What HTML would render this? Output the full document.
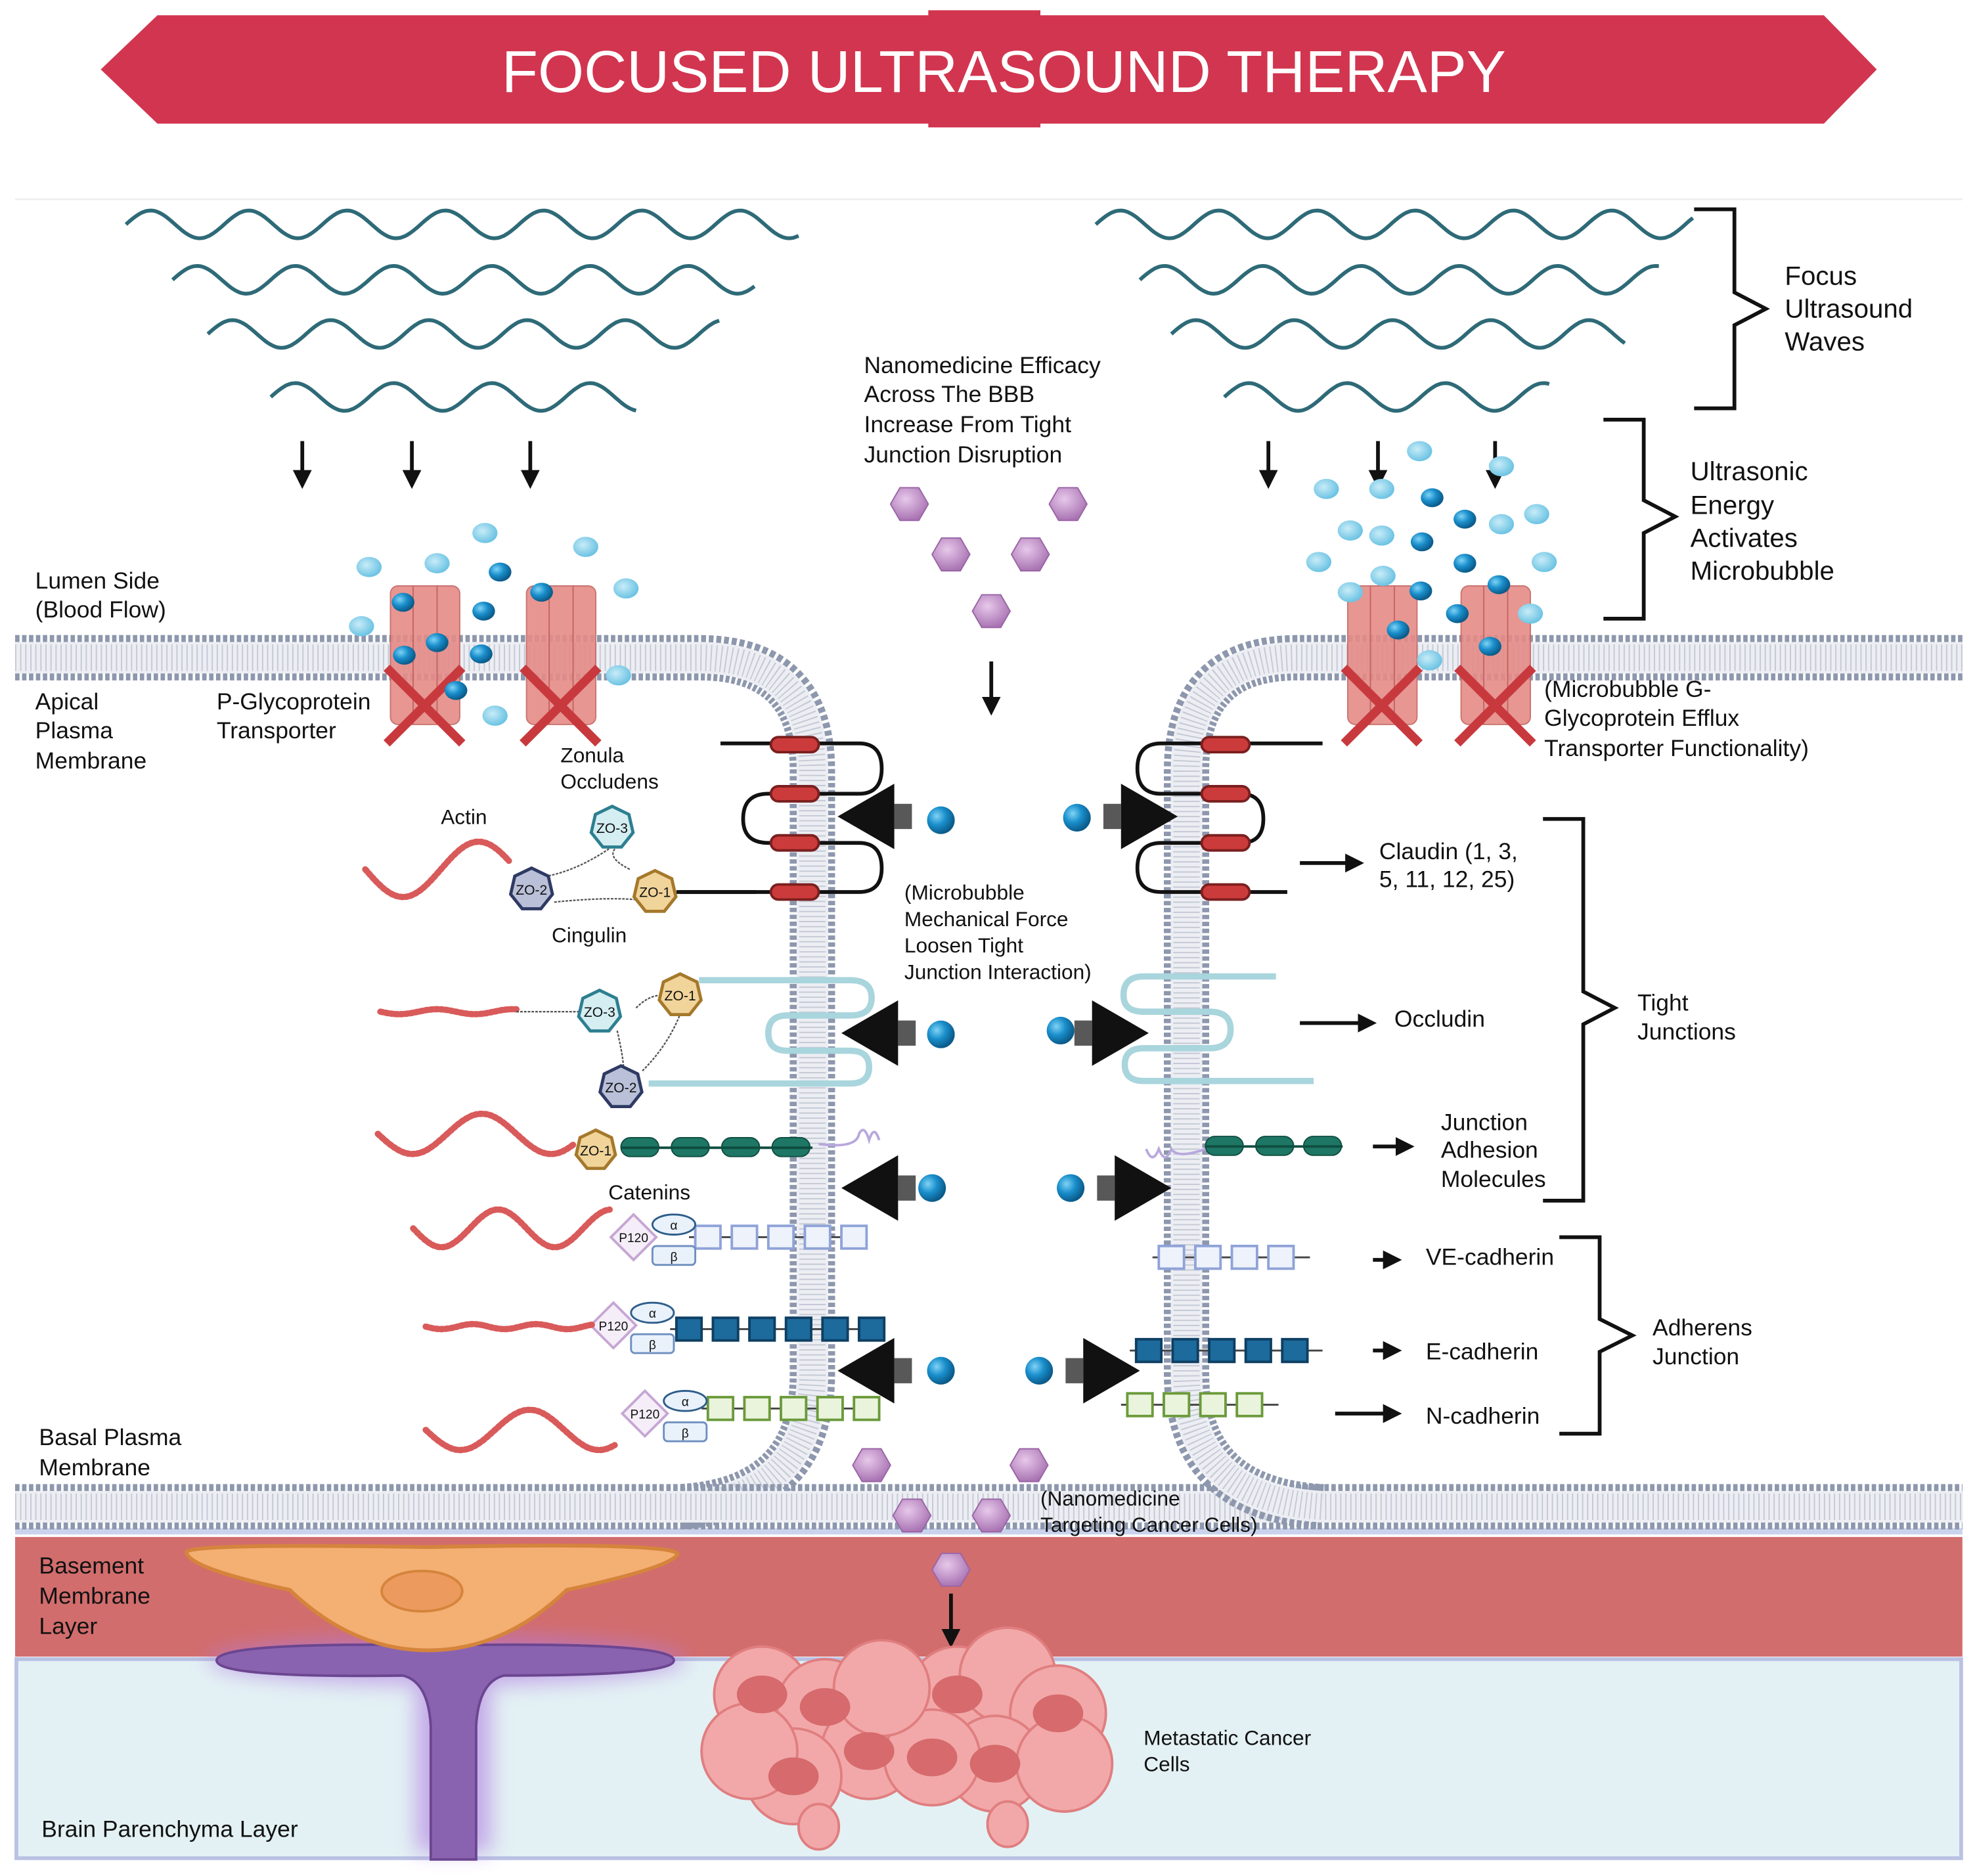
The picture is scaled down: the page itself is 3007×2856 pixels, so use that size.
<!DOCTYPE html>
<html><head><meta charset="utf-8">
<style>
html,body{margin:0;padding:0;background:#fff;}
svg{display:block;}
text{font-family:"Liberation Sans",Arial,sans-serif;fill:#111;}
</style></head>
<body>
<svg id="s" xmlns="http://www.w3.org/2000/svg" width="3007" height="2856" viewBox="0 0 1568 1489">
<defs>
<radialGradient id="ball" cx="35%" cy="35%" r="65%"><stop offset="0" stop-color="#7fd3f5"/><stop offset="0.5" stop-color="#1a8fcc"/><stop offset="1" stop-color="#0b5b8a"/></radialGradient>
<radialGradient id="lball" cx="40%" cy="40%" r="60%"><stop offset="0" stop-color="#c8ecf8"/><stop offset="1" stop-color="#6cc3e3"/></radialGradient>
<radialGradient id="nano" cx="40%" cy="35%" r="65%"><stop offset="0" stop-color="#e7c8ea"/><stop offset="1" stop-color="#a974b3"/></radialGradient>
<filter id="glow" x="-30%" y="-60%" width="160%" height="220%"><feGaussianBlur stdDeviation="8"/></filter>
<linearGradient id="tail" x1="0" x2="1"><stop offset="0" stop-color="#000" stop-opacity="0.9"/><stop offset="1" stop-color="#000" stop-opacity="0"/></linearGradient>
<marker id="ah" viewBox="0 0 10 10" refX="8" refY="5" markerWidth="5" markerHeight="5" orient="auto"><path d="M0,0 L10,5 L0,10 z" fill="#111"/></marker>
</defs>

<!-- title banner -->
<polygon points="125,12 1448,12 1490,55 1448,98 125,98 80,55" fill="#d2354f"/>
<rect x="737" y="8" width="89" height="93" fill="#d2354f"/>
<text x="797" y="73" font-size="47" text-anchor="middle" style="fill:#fff">FOCUSED ULTRASOUND THERAPY</text>
<line x1="12" y1="158" x2="1558" y2="158" stroke="#eee" stroke-width="1.5"/>

<!-- lower layers -->
<rect x="12" y="1213" width="1546" height="5" fill="#c9d3ec"/>
<rect x="12" y="1220" width="1546" height="95" fill="#d26d6d"/>
<rect x="13" y="1317" width="1544" height="158" fill="#e3f1f4" stroke="#b9c2e3" stroke-width="3"/>

<g id="waves" fill="none" stroke="#2e6a77" stroke-width="3"></g>
<g id="arrows" stroke="#111" stroke-width="3" fill="none"></g>

<!-- brackets -->
<g fill="none" stroke="#111" stroke-width="3">
<path d="M1345,166 H1377 V232 L1402,245 L1377,258 V324 H1345"/>
<path d="M1273,333 H1305 V397 L1330,410 L1305,423 V491 H1273"/>
<path d="M1225,650 H1257 V787 L1282,800 L1257,813 V953 H1225"/>
<path d="M1238,982 H1270 V1047 L1296,1060 L1270,1073 V1138 H1238"/>
</g>

<!-- membranes -->
<g id="mem" fill="none"></g>

<!-- astrocyte & cell -->
<g filter="url(#glow)" opacity="0.6"><ellipse cx="355" cy="1318" rx="190" ry="20" fill="#b07ae0"/><rect x="330" y="1320" width="60" height="150" fill="#b07ae0"/></g>
<path d="M172,1318 Q172,1303 352,1306 Q535,1303 535,1318 Q535,1330 400,1330 Q380,1335 378,1370 V1476 H342 V1370 Q340,1335 320,1330 Q172,1332 172,1318z" fill="#8a63b0" stroke="#6b4690" stroke-width="2"/>
<path d="M148,1232 Q150,1225 340,1228 Q540,1224 538,1234 Q530,1245 450,1262 Q400,1310 340,1310 Q280,1310 230,1262 Q150,1245 148,1232z" fill="#f4af72" stroke="#d5843c" stroke-width="3"/>
<ellipse cx="335" cy="1263" rx="32" ry="16" fill="#ec9a5e" stroke="#d5843c" stroke-width="2"/>

<!-- cancer cells -->
<g id="cancer"></g>

<!-- transporters -->
<g id="pgp"></g>
<g id="bubbles"></g>

<!-- tight junction structures -->
<g fill="none" stroke="#111" stroke-width="3">
<path d="M572,590 H682 Q700,590 700,610 Q700,630 682,630 H610 Q590,630 590,650 Q590,669 610,669 H682 Q700,669 700,689 Q700,708 682,708 H540"/>
<path d="M1050,590 H922 Q903,590 903,610 Q903,630 922,630 H985 Q1003,630 1003,650 Q1003,669 985,669 H922 Q903,669 903,689 Q903,708 922,708 H1022"/>
</g>
<g id="claudin" fill="#cc3b3b" stroke="#7a1f1f" stroke-width="2"></g>
<g fill="none" stroke="#a9d5dd" stroke-width="5">
<path d="M555,778 H675 Q692,778 692,792 Q692,806 675,806 H625 Q610,806 610,820 Q610,834 625,834 H675 Q690,834 690,847 Q690,860 675,860 H515"/>
<path d="M1013,775 H908 Q892,775 892,790 Q892,803 908,803 H960 Q977,803 977,817 Q977,832 960,832 H908 Q893,832 893,845 Q893,858 908,858 H1043"/>
</g>
<g id="prot"></g>
<g id="actin" fill="none" stroke="#d95a5a" stroke-width="5" stroke-dasharray="2 2" stroke-linecap="round"></g>
<g id="zo"></g>
<g id="big"></g>
<g id="nanos"></g>

<!-- texts -->
<g font-size="21">
<text x="1417" y="226">Focus</text><text x="1417" y="252">Ultrasound</text><text x="1417" y="278">Waves</text>
<text x="1342" y="381">Ultrasonic</text><text x="1342" y="408">Energy</text><text x="1342" y="434">Activates</text><text x="1342" y="460">Microbubble</text>
</g>
<g font-size="18.5">
<text x="686" y="296">Nanomedicine Efficacy</text><text x="686" y="319">Across The BBB</text><text x="686" y="343">Increase From Tight</text><text x="686" y="367">Junction Disruption</text>
<text x="28" y="467">Lumen Side</text><text x="28" y="490">(Blood Flow)</text>
<text x="28" y="563">Apical</text><text x="28" y="586">Plasma</text><text x="28" y="610">Membrane</text>
<text x="172" y="563">P-Glycoprotein</text><text x="172" y="586">Transporter</text>
<text x="1226" y="553">(Microbubble G-</text><text x="1226" y="576">Glycoprotein Efflux</text><text x="1226" y="600">Transporter Functionality)</text>
<text x="1095" y="682">Claudin (1, 3,</text><text x="1095" y="704">5, 11, 12, 25)</text>
<text x="1107" y="815">Occludin</text>
<text x="1300" y="802">Tight</text><text x="1300" y="825">Junctions</text>
<text x="1144" y="897">Junction</text><text x="1144" y="919">Adhesion</text><text x="1144" y="942">Molecules</text>
<text x="1132" y="1004">VE-cadherin</text><text x="1132" y="1079">E-cadherin</text><text x="1132" y="1130">N-cadherin</text>
<text x="1312" y="1060">Adherens</text><text x="1312" y="1083">Junction</text>
<text x="31" y="1147">Basal Plasma</text><text x="31" y="1171">Membrane</text>
<text x="31" y="1249">Basement</text><text x="31" y="1273">Membrane</text><text x="31" y="1297">Layer</text>
<text x="33" y="1458">Brain Parenchyma Layer</text>
</g>
<g font-size="16.5">
<text x="445" y="605">Zonula</text><text x="445" y="626">Occludens</text>
<text x="350" y="654">Actin</text><text x="438" y="748">Cingulin</text>
<text x="718" y="714">(Microbubble</text><text x="718" y="735">Mechanical Force</text><text x="718" y="756">Loosen Tight</text><text x="718" y="777">Junction Interaction)</text>
<text x="483" y="952">Catenins</text>
<text x="826" y="1195">(Nanomedicine</text><text x="826" y="1216">Targeting Cancer Cells)</text>
<text x="908" y="1385">Metastatic Cancer</text><text x="908" y="1406">Cells</text>
</g>
</svg>
<script>
const NS="http://www.w3.org/2000/svg";
function el(p,t,a,txt){const e=document.createElementNS(NS,t);for(const k in a)e.setAttribute(k,a[k]);if(txt)e.textContent=txt;document.getElementById(p).appendChild(e);return e;}
// waves
[[100,635,178],[137,600,222],[165,572,265],[215,505,315],[870,1345,178],[905,1318,222],[930,1290,265],[972,1230,315]].forEach(([a,b,y])=>{let d="";for(let x=a;x<=b;x+=2){const v=y-11*Math.sin((x-a)/78*2*Math.PI);d+=(x==a?"M":"L")+x+","+v.toFixed(1);}el("waves","path",{d});});
// down arrows
[[240,350,393],[327,350,393],[421,350,393],[1007,350,393],[1094,350,393],[1187,350,393],[787,525,573],[755,1265,1313]].forEach(([x,a,b])=>el("arrows","line",{x1:x,y1:a,x2:x,y2:b-8,"marker-end":"url(#ah)"}));
// small right arrows
[[1032,1086,685],[1032,1096,812],[1090,1126,910],[1090,1116,1000],[1090,1116,1072],[1060,1116,1122]].forEach(([a,b,y])=>el("arrows","line",{x1:a,y1:y,x2:b-6,y2:y,"marker-end":"url(#ah)"}));
// membranes
const mp=["M12,522 H555 Q645,522 645,612 V1090 Q645,1190 540,1196","M12,1196 H1558","M1558,522 H1030 Q942,522 942,612 V1090 Q942,1190 1050,1196"];
mp.forEach(d=>{el("mem","path",{d,stroke:"#8d97ad","stroke-width":36,"stroke-dasharray":"3.5 2"});el("mem","path",{d,stroke:"#eceef3","stroke-width":25});el("mem","path",{d,stroke:"#c4c9d4","stroke-width":21,"stroke-dasharray":"1 3"});});
// pgp
[[310,465],[418,465],[1070,465],[1160,465]].forEach(([x,y])=>{el("pgp","rect",{x,y,width:55,height:110,rx:6,fill:"#e58b87",opacity:0.9,stroke:"#c56562"});el("pgp","line",{x1:x+18,y1:y,x2:x+18,y2:y+110,stroke:"#c56562"});el("pgp","line",{x1:x+37,y1:y,x2:x+37,y2:y+110,stroke:"#c56562"});
const cx=x+27,cy=y+95;el("pgp","path",{d:`M${cx-30},${cy-30} L${cx+30},${cy+30} M${cx+30},${cy-30} L${cx-30},${cy+30}`,stroke:"#c8393e","stroke-width":7});});
// bubbles
const lb=[[293,450],[347,447],[385,423],[465,434],[497,467],[287,497],[393,568],[491,536],[1053,388],[1127,358],[1192,370],[1097,388],[1072,421],[1097,425],[1192,416],[1220,408],[1047,446],[1226,446],[1098,457],[1072,470],[1215,487],[1135,524]];
lb.forEach(([x,y])=>el("bubbles","ellipse",{cx:x,cy:y,rx:10,ry:8,fill:"url(#lball)"}));
const db=[[397,454],[384,485],[382,519],[320,478],[347,510],[321,520],[362,548],[430,470],[1137,395],[1163,412],[1129,430],[1163,447],[1128,469],[1190,464],[1110,500],[1183,513],[1157,487]];
db.forEach(([x,y])=>el("bubbles","ellipse",{cx:x,cy:y,rx:9,ry:7.5,fill:"url(#ball)"}));
// claudin pills
[591,630,669,708].forEach(y=>{el("claudin","rect",{x:612,y:y-6,width:38,height:12,rx:6});el("claudin","rect",{x:954,y:y-6,width:38,height:12,rx:6});});
// JAMs
[508,548,588,628].forEach(x=>el("prot","rect",{x:x-15,y:903,width:30,height:15,rx:7.5,fill:"#1e7765",stroke:"#0f4d40"}));
[972,1012,1050].forEach(x=>el("prot","rect",{x:x-15,y:902,width:30,height:15,rx:7.5,fill:"#1e7765",stroke:"#0f4d40"}));
el("prot","line",{x1:493,y1:911,x2:645,y2:911,stroke:"#0f4d40","stroke-width":2});
el("prot","line",{x1:957,y1:910,x2:1066,y2:910,stroke:"#0f4d40","stroke-width":2});
el("prot","path",{d:"M650,908 Q680,912 682,900 Q686,892 690,905 Q694,892 698,905",fill:"none",stroke:"#b8a8dd","stroke-width":2});
el("prot","path",{d:"M910,912 Q915,925 920,912 Q925,925 930,912 Q935,920 957,912",fill:"none",stroke:"#b8a8dd","stroke-width":2});
// cadherins
function cad(x0,x1,y,fill,st){el("prot","line",{x1:x0-5,y1:y,x2:x1+5,y2:y,stroke:"#444","stroke-width":1.5});for(let x=x0;x<=x1;x+=29)el("prot","rect",{x:x,y:y-9,width:20,height:18,fill,stroke:st,"stroke-width":2});}
cad(552,670,982,"#eef2fb","#8fa3d8");cad(920,1035,998,"#eef2fb","#8fa3d8");
cad(537,685,1055,"#1d6a9c","#0e3f63");cad(902,1045,1072,"#1d6a9c","#0e3f63");
cad(562,680,1118,"#eaf4dc","#6b9a3a");cad(895,1010,1115,"#eaf4dc","#6b9a3a");
[[503,982,535],[487,1052,518],[512,1122,544]].forEach(([px,y,ax])=>{el("prot","polygon",{points:`${px-18},${y} ${px},${y-18} ${px+18},${y} ${px},${y+18}`,fill:"#f5eef8",stroke:"#c6a6d4","stroke-width":2});el("prot","text",{x:px,y:y+4,"font-size":10,"text-anchor":"middle"},"P120");
el("prot","ellipse",{cx:ax,cy:y-10,rx:17,ry:8,fill:"#e9f1fb",stroke:"#2d5d8a","stroke-width":1.5});el("prot","text",{x:ax,y:y-6,"font-size":10,"text-anchor":"middle"},"α");
el("prot","rect",{x:ax-17,y:y+7,width:34,height:15,rx:3,fill:"#e9f1fb",stroke:"#6f8fc0","stroke-width":1.5});el("prot","text",{x:ax,y:y+19,"font-size":10,"text-anchor":"middle"},"β");});
// actin wavy
function act(x0,x1,y,amp,per){let d="";for(let x=x0;x<=x1;x+=3){const v=y+amp*Math.sin((x-x0)/per*2*Math.PI);d+=(x==x0?"M":"L")+x+","+v.toFixed(1);}el("actin","path",{d});}
act(290,405,690,22,120);act(302,410,803,2,60);act(300,458,900,16,110);act(328,485,975,15,90);act(338,470,1053,2,50);act(338,490,1135,16,110);
// ZO lines
el("zo","path",{d:"M486,672 Q460,690 436,695 M500,690 Q480,680 490,672 M440,716 Q480,712 505,714 M410,803 H462 M505,800 Q515,790 525,790 M490,818 Q495,840 495,848 M510,850 Q530,830 540,805",fill:"none",stroke:"#555","stroke-width":1.2,"stroke-dasharray":"2 1"});
el("zo","line",{x1:537,y1:708,x2:600,y2:708,stroke:"#111","stroke-width":3});
function hept(x,y,r,f,s,l){let p="";for(let i=0;i<7;i++){const a=-Math.PI/2+i*2*Math.PI/7;p+=(x+r*Math.cos(a)).toFixed(1)+","+(y+r*Math.sin(a)).toFixed(1)+" ";}el("zo","polygon",{points:p,fill:f,stroke:s,"stroke-width":2.5});el("zo","text",{x,y:y+4,"font-size":11,"text-anchor":"middle"},l);}
const Z3=["#d4eef2","#2d7f90"],Z2=["#b9c0d8","#2f3a63"],Z1=["#f1d49a","#a5782b"];
hept(486,657,17,...Z3,"ZO-3");hept(422,706,17,...Z2,"ZO-2");hept(520,708,17,...Z1,"ZO-1");
hept(476,803,17,...Z3,"ZO-3");hept(540,790,17,...Z1,"ZO-1");hept(493,863,17,...Z2,"ZO-2");hept(473,913,16,...Z1,"ZO-1");
// big arrows
function big(tip,y,dir){const b=tip+dir*45;el("big","polygon",{points:`${tip},${y} ${b},${y-26} ${b},${y+26}`,fill:"#111"});el("big","rect",{x:dir>0?b:b-14,y:y-10,width:14,height:20,fill:"#111",opacity:0.7});}
[[665,648,935],[668,820,912],[668,943,930],[665,1088,905]].forEach(([l,y,r])=>{big(l,y,1);big(r,y,-1);});
[[747,651],[855,649],[747,821],[842,818],[740,943],[850,943],[747,1088],[825,1088]].forEach(([x,y])=>el("big","circle",{cx:x,cy:y,r:11,fill:"url(#ball)"}));
// nanomedicine
[[722,400],[848,400],[755,440],[818,440],[787,485],[692,1163],[817,1163],[724,1203],[787,1203],[755,1246]].forEach(([x,y])=>{let p="";for(let i=0;i<6;i++){const a=i*Math.PI/3;p+=(x+15*Math.cos(a)).toFixed(1)+","+(y+15*Math.sin(a)).toFixed(1)+" ";}el("nanos","polygon",{points:p,fill:"url(#nano)",stroke:"#9a64a5","stroke-width":1});});
// cancer cells
[[605,1345],[655,1355],[690,1390],[630,1410],[595,1390],[760,1345],[800,1330],[840,1360],[790,1400],[740,1395],[700,1340],[845,1400]].forEach(([x,y])=>{el("cancer","circle",{cx:x,cy:y,r:38,fill:"#f2a8a8",stroke:"#e07e80","stroke-width":2});});
[[605,1345],[655,1355],[690,1390],[630,1410],[760,1345],[840,1360],[790,1400],[740,1395]].forEach(([x,y])=>el("cancer","ellipse",{cx:x,cy:y,rx:20,ry:15,fill:"#d66a6c"}));
[[650,1450],[800,1448]].forEach(([x,y])=>el("cancer","ellipse",{cx:x,cy:y,rx:16,ry:18,fill:"#f2a8a8",stroke:"#e07e80","stroke-width":2}));
</script>
</body></html>
